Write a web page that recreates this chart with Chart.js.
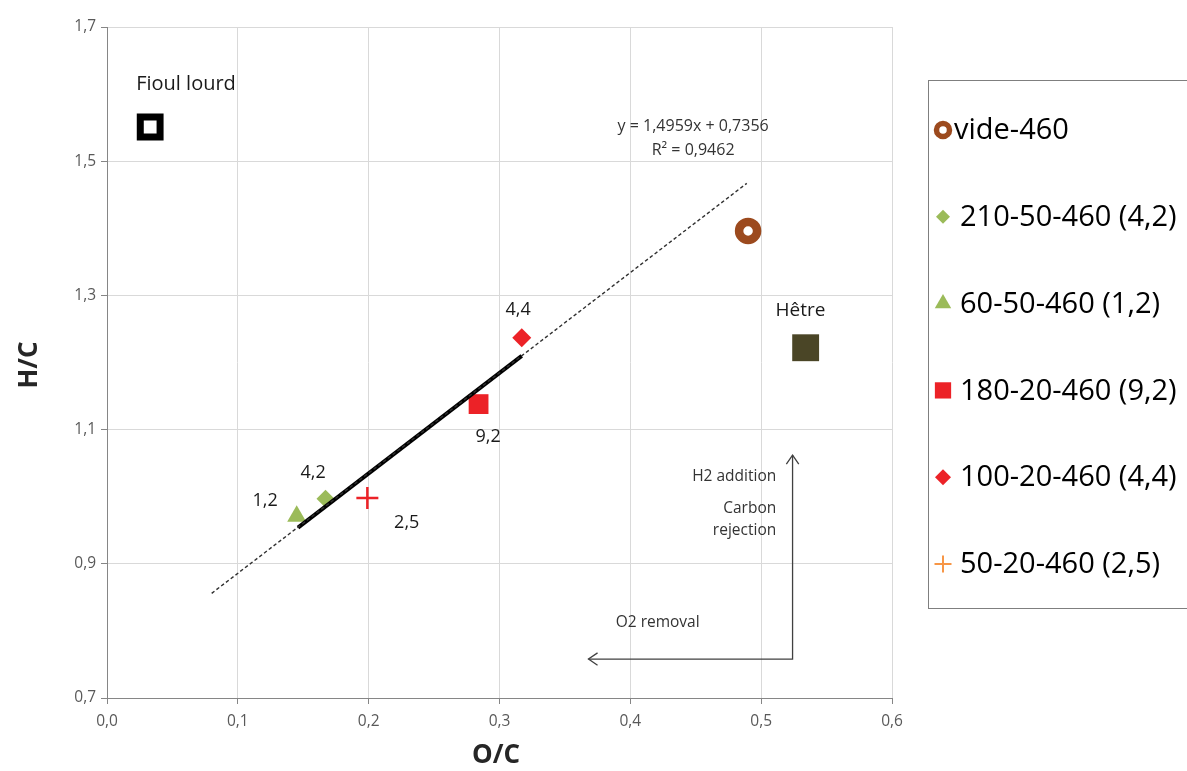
<!DOCTYPE html>
<html>
<head>
<meta charset="utf-8">
<script src="https://cdn.jsdelivr.net/npm/chart.js@4.4.1/dist/chart.umd.min.js"></script>
<style>
  body { margin: 0; background: #fff; }
  canvas { display: block; }
</style>
</head>
<body>
<canvas id="vanKrevelen" width="1187" height="771"></canvas>
<script>
// Samples (O/C, H/C)
const seriesNames = ["vide-460", "210-50-460 (4,2)", "60-50-460 (1,2)", "180-20-460 (9,2)", "100-20-460 (4,4)", "50-20-460 (2,5)"];
const seriesOC = [0.490, 0.167, 0.145, 0.284, 0.317, 0.199];
const seriesHC = [1.396, 0.997, 0.971, 1.138, 1.237, 0.998];

// Reference feedstocks
const refNames = ["Fioul lourd", "Hêtre"];
const refOC = [0.033, 0.534];
const refHC = [1.551, 1.222];

// Linear trend (dashed) and fitted segment (solid)
const trendOC = [0.080, 0.489];
const trendHC = [0.856, 1.467];
const fitOC = [0.146, 0.317];
const fitHC = [0.954, 1.210];

// Reaction arrows: O2 removal tip, corner, H2 addition tip
const arrowOC = [0.368, 0.524, 0.524];
const arrowHC = [0.758, 0.758, 1.062];

// Tick labels
const xTicks = [0, 0.1, 0.2, 0.3, 0.4, 0.5, 0.6];
const yTicks = [0.7, 0.9, 1.1, 1.3, 1.5, 1.7];

const FONT = "'Open Sans', 'DejaVu Sans', sans-serif";
const RED = "#ec2227";
const GREEN = "#9bbb59";
const BROWN = "#9c4a1e";

const comma = v => Number(v).toFixed(1).replace(".", ",");
const pts = (xs, ys) => xs.map((x, i) => ({ x: x, y: ys[i] }));

// marker look for each sample series (plot, legend)
const markers = [
    { style: "circle", fill: "#fff", stroke: BROWN, r: 9, bw: 8.5, lr: 6.5, lbw: 5.5, lstroke: BROWN },
    { style: "rectRot", fill: GREEN, stroke: GREEN, r: 9, bw: 0, lr: 7, lbw: 0, lstroke: GREEN },
    { style: "triangle", fill: GREEN, stroke: GREEN, r: 11, bw: 0, lr: 9.5, lbw: 0, lstroke: GREEN },
    { style: "rect", fill: RED, stroke: RED, r: 14, bw: 0, lr: 11.5, lbw: 0, lstroke: RED },
    { style: "rectRot", fill: RED, stroke: RED, r: 9.5, bw: 0, lr: 8, lbw: 0, lstroke: RED },
    { style: "cross", fill: RED, stroke: RED, r: 11, bw: 2.5, lr: 8.5, lbw: 2, lstroke: "#f79646" },
];

// Text notes: [text, O/C, H/C, font size, align, colour]
const notes = [
    ["Fioul lourd", 0.0604, 1.615, 20, "center", "#1a1a1a"],
    ["Hêtre", 0.530, 1.278, 19, "center", "#1a1a1a"],
    ["4,4", 0.3142, 1.278, 18, "center", "#1a1a1a"],
    ["9,2", 0.2913, 1.089, 18, "center", "#1a1a1a"],
    ["4,2", 0.1575, 1.035, 18, "center", "#1a1a1a"],
    ["1,2", 0.1208, 0.9936, 18, "center", "#1a1a1a"],
    ["2,5", 0.2291, 0.9604, 18, "center", "#1a1a1a"],
    ["y = 1,4959x + 0,7356", 0.448, 1.5525, 16, "center", "#333"],
    ["R² = 0,9462", 0.448, 1.5167, 16, "center", "#333"],
    ["H2 addition", 0.5115, 1.0298, 15.5, "right", "#333"],
    ["Carbon", 0.5115, 0.9827, 15.5, "right", "#333"],
    ["rejection", 0.5115, 0.9494, 15.5, "right", "#333"],
    ["O2 removal", 0.4209, 0.8122, 15.5, "center", "#333"],
];

const datasets = [
    {
        label: "trend", data: pts(trendOC, trendHC), showLine: true, pointRadius: 0,
        borderColor: "#303030", borderWidth: 1.4, borderDash: [3.5, 2.5],
    },
    {
        label: "fit", data: pts(fitOC, fitHC), showLine: true, pointRadius: 0,
        borderColor: "#000", borderWidth: 4,
    },
    {
        label: "arrows", data: pts(arrowOC, arrowHC), showLine: true, pointRadius: 0,
        borderColor: "#404040", borderWidth: 1.3,
    },
    {
        label: refNames[0], data: pts([refOC[0]], [refHC[0]]), pointStyle: "rect",
        pointRadius: 14, backgroundColor: "#fff", borderColor: "#000", pointBorderWidth: 7,
    },
    {
        label: refNames[1], data: pts([refOC[1]], [refHC[1]]), pointStyle: "rect",
        pointRadius: 19, backgroundColor: "#4a4526", borderColor: "#4a4526", pointBorderWidth: 0,
    },
];
seriesNames.forEach((name, i) => {
    const m = markers[i];
    datasets.push({
        label: name, data: pts([seriesOC[i]], [seriesHC[i]]), pointStyle: m.style,
        pointRadius: m.r, backgroundColor: m.fill, borderColor: m.stroke, pointBorderWidth: m.bw,
    });
});

function arrowHead(ctx, tip, from) {
    const ang = Math.atan2(tip.y - from.y, tip.x - from.x);
    const len = 11, spread = 0.6;
    ctx.beginPath();
    ctx.moveTo(tip.x - len * Math.cos(ang - spread), tip.y - len * Math.sin(ang - spread));
    ctx.lineTo(tip.x, tip.y);
    ctx.lineTo(tip.x - len * Math.cos(ang + spread), tip.y - len * Math.sin(ang + spread));
    ctx.stroke();
}

const annotate = {
    id: "annotate",
    afterDraw(chart) {
        const { ctx, scales: { x, y } } = chart;
        ctx.save();

        // arrowheads
        const arr = chart.getDatasetMeta(2).data;
        ctx.strokeStyle = "#404040";
        ctx.lineWidth = 1.3;
        arrowHead(ctx, arr[0], arr[1]);
        arrowHead(ctx, arr[2], arr[1]);

        // notes
        ctx.textBaseline = "middle";
        notes.forEach(([t, ox, hy, size, align, colour]) => {
            ctx.font = size + "px " + FONT;
            ctx.fillStyle = colour;
            ctx.textAlign = align;
            ctx.fillText(t, x.getPixelForValue(ox), y.getPixelForValue(hy));
        });

        // axis titles
        ctx.fillStyle = "#262626";
        ctx.font = "bold 26px " + FONT;
        ctx.textAlign = "center";
        ctx.fillText("O/C", 496, 756);
        ctx.save();
        ctx.translate(30, 365);
        ctx.rotate(-Math.PI / 2);
        ctx.fillText("H/C", 0, 0);
        ctx.restore();

        // legend box
        ctx.strokeStyle = "#7f7f7f";
        ctx.lineWidth = 1;
        ctx.strokeRect(928.5, 80.5, 280, 528);
        ctx.font = "29px " + FONT;
        ctx.textAlign = "left";
        seriesNames.forEach((name, i) => {
            const m = markers[i];
            const ly = 130 + i * 86.8;
            ctx.fillStyle = m.fill;
            ctx.strokeStyle = m.lstroke;
            ctx.lineWidth = m.lbw;
            Chart.helpers.drawPoint(ctx, { pointStyle: m.style, radius: m.lr, rotation: 0, borderWidth: m.lbw }, 943, ly);
            ctx.fillStyle = "#000";
            ctx.fillText(name, i === 0 ? 954 : 960, ly + 1);
        });
        ctx.restore();
    }
};

new Chart(document.getElementById("vanKrevelen"), {
    type: "scatter",
    data: { datasets: datasets },
    options: {
        responsive: false,
        devicePixelRatio: 1,
        animation: false,
        layout: { padding: { top: 27, right: 295, bottom: 0, left: 0 } },
        plugins: { legend: { display: false }, tooltip: { enabled: false } },
        scales: {
            x: {
                type: "linear", min: 0, max: 0.6,
                afterFit: s => { s.height = 73; },
                afterBuildTicks: s => { s.ticks = xTicks.map(v => ({ value: v })); },
                ticks: { callback: comma, color: "#595959", padding: 8, font: { family: FONT, size: 15.5 } },
                grid: { color: "#d9d9d9", tickColor: "#868686", tickLength: 6 },
                border: { color: "#868686" },
            },
            y: {
                type: "linear", min: 0.7, max: 1.7,
                afterFit: s => { s.width = 107; },
                afterBuildTicks: s => { s.ticks = yTicks.map(v => ({ value: v })); },
                ticks: { callback: comma, color: "#595959", padding: 5, font: { family: FONT, size: 15.5 } },
                grid: { color: "#d9d9d9", tickColor: "#868686", tickLength: 6 },
                border: { color: "#868686" },
            },
        },
    },
    plugins: [annotate],
});
</script>
</body>
</html>
